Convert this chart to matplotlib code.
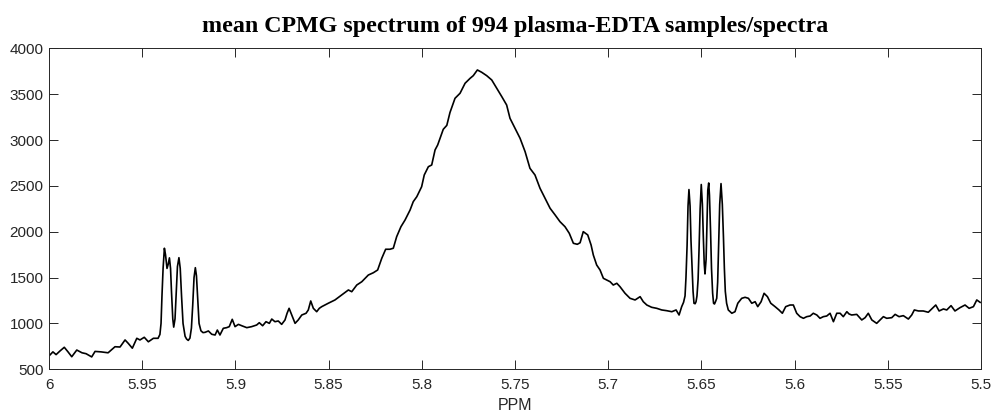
import matplotlib
matplotlib.use("Agg")
import matplotlib.pyplot as plt

ppm = [
    5.9995, 5.9979, 5.9962, 5.9941, 5.9918, 5.9898, 5.9878, 5.9851, 5.9823, 5.9801,
    5.9771, 5.9753, 5.9721, 5.9683, 5.9646, 5.9619, 5.9592, 5.9575, 5.9553, 5.9529,
    5.9512, 5.9489, 5.9467, 5.9440, 5.9415,
    5.9405, 5.9399, 5.9394, 5.9388, 5.9381, 5.9375, 5.9367, 5.9360, 5.9354, 5.9348,
    5.9343, 5.9336, 5.9331, 5.9324, 5.9317, 5.9311, 5.9303, 5.9296, 5.9289, 5.9281,
    5.9270, 5.9262, 5.9253, 5.9244, 5.9236, 5.9229, 5.9222, 5.9215, 5.9209, 5.9202,
    5.9195, 5.9185, 5.9174,
    5.9163, 5.9145, 5.9127, 5.9109, 5.9097, 5.9083, 5.9065, 5.9047, 5.9033, 5.9017,
    5.9002, 5.8984, 5.8966, 5.8939, 5.8913, 5.8886, 5.8872, 5.8854, 5.8836, 5.8818,
    5.8805, 5.8788, 5.8770, 5.8752, 5.8734, 5.8723, 5.8712, 5.8698, 5.8680, 5.8663,
    5.8644, 5.8621, 5.8609, 5.8596, 5.8582, 5.8564, 5.8550, 5.8537, 5.8502, 5.8466,
    5.8430, 5.8394, 5.8376, 5.8349, 5.8322, 5.8287, 5.8260, 5.8237, 5.8215, 5.8194,
    5.8171, 5.8153, 5.8135, 5.8112, 5.8090, 5.8063, 5.8046, 5.8027, 5.8001, 5.7987,
    5.7965, 5.7947, 5.7929, 5.7915, 5.7897, 5.7885, 5.7866, 5.7849, 5.7822, 5.7795,
    5.7768, 5.7741, 5.7724, 5.7702, 5.7679, 5.7652, 5.7625, 5.7598, 5.7571, 5.7545,
    5.7527, 5.7500, 5.7473, 5.7446, 5.7420, 5.7393, 5.7366, 5.7339, 5.7312, 5.7285,
    5.7259, 5.7232, 5.7209, 5.7187, 5.7166, 5.7151, 5.7134, 5.7110, 5.7092, 5.7080,
    5.7062, 5.7044, 5.7026, 5.7008, 5.6990, 5.6973, 5.6954, 5.6937, 5.6910, 5.6883,
    5.6856, 5.6829, 5.6812, 5.6793, 5.6767, 5.6740, 5.6713, 5.6686, 5.6659, 5.6636,
    5.6620, 5.6606,
    5.6596, 5.6588, 5.6583, 5.6577, 5.6572, 5.6567, 5.6561, 5.6556, 5.6550, 5.6545,
    5.6540, 5.6534, 5.6529, 5.6524, 5.6518, 5.6513, 5.6507, 5.6501, 5.6495, 5.6490,
    5.6485, 5.6481, 5.6475, 5.6470, 5.6466, 5.6461, 5.6457, 5.6451, 5.6446, 5.6440,
    5.6435, 5.6430, 5.6424, 5.6418, 5.6413, 5.6407, 5.6402, 5.6395, 5.6388, 5.6382,
    5.6377, 5.6372, 5.6365, 5.6356,
    5.6337, 5.6320, 5.6305, 5.6284, 5.6266, 5.6248, 5.6230,
    5.6212, 5.6198, 5.6180, 5.6164, 5.6146, 5.6128, 5.6105, 5.6084, 5.6066, 5.6048,
    5.6025, 5.6007, 5.5989, 5.5971, 5.5953, 5.5935, 5.5917, 5.5900, 5.5881, 5.5864,
    5.5846, 5.5828, 5.5810, 5.5792, 5.5774, 5.5756, 5.5739, 5.5720, 5.5708, 5.5694,
    5.5667, 5.5640, 5.5622, 5.5605, 5.5586, 5.5560, 5.5542, 5.5524, 5.5506, 5.5479,
    5.5461, 5.5440, 5.5417, 5.5390, 5.5372, 5.5358, 5.5336, 5.5310, 5.5283, 5.5261,
    5.5243, 5.5225, 5.5202, 5.5184, 5.5161, 5.5140, 5.5113, 5.5086, 5.5064, 5.5041,
    5.5023, 5.5005,
]

intensity = [
    656, 690, 660, 700, 740, 690, 637, 710, 680, 670,
    635, 695, 690, 680, 746, 743, 820, 783, 730, 838,
    820, 849, 800, 838, 838,
    880, 1000, 1300, 1600, 1820, 1750, 1600, 1650, 1715, 1600,
    1350, 1050, 960, 1050, 1350, 1620, 1717, 1600, 1300, 1000,
    860, 830, 815, 840, 950, 1200, 1500, 1608, 1520, 1250,
    1000, 920, 900,
    903, 918, 882, 874, 928, 874, 947, 954, 965, 1045,
    965, 990, 975, 954, 965, 983, 1008, 975, 1019, 1001,
    1048, 1019, 1027, 990, 1038, 1110, 1165, 1092, 1001, 1038,
    1092, 1111, 1147, 1245, 1165, 1128, 1165, 1183, 1220, 1256,
    1310, 1365, 1346, 1419, 1455, 1528, 1553, 1583, 1710, 1809,
    1809, 1820, 1946, 2055, 2128, 2237, 2328, 2382, 2491, 2619,
    2709, 2728, 2892, 2946, 3050, 3117, 3160, 3300, 3455, 3510,
    3619, 3673, 3702, 3764, 3739, 3702, 3655, 3564, 3473, 3382,
    3237, 3128, 3019, 2873, 2692, 2619, 2474, 2365, 2256, 2183,
    2110, 2055, 1983, 1874, 1863, 1880, 2001, 1965, 1855, 1746,
    1637, 1583, 1492, 1474, 1455, 1419, 1438, 1401, 1329, 1274,
    1256, 1292, 1237, 1201, 1176, 1165, 1147, 1139, 1128, 1147,
    1092, 1183,
    1230, 1300, 1500, 1850, 2280, 2460, 2280, 1900, 1600, 1350,
    1220, 1215, 1237, 1300, 1480, 1800, 2250, 2515, 2300, 1950,
    1650, 1540, 1700, 2100, 2450, 2532, 2400, 2000, 1600, 1330,
    1220, 1212, 1240, 1274, 1450, 1900, 2300, 2525, 2300, 1946,
    1600, 1350, 1220, 1147,
    1111, 1128, 1220, 1274, 1285, 1274, 1220,
    1237, 1183, 1237, 1329, 1292, 1220, 1183, 1147, 1111, 1183,
    1201, 1201, 1111, 1074, 1056, 1074, 1081, 1111, 1092, 1056,
    1074, 1081, 1111, 1019, 1111, 1111, 1074, 1128, 1103, 1092,
    1099, 1038, 1063, 1111, 1038, 1001, 1038, 1074, 1056, 1063,
    1099, 1074, 1085, 1048, 1092, 1147, 1136, 1136, 1122, 1165,
    1201, 1136, 1158, 1147, 1194, 1136, 1172, 1201, 1165, 1183,
    1256, 1230,
]

x_ticks = [6.0, 5.95, 5.9, 5.85, 5.8, 5.75, 5.7, 5.65, 5.6, 5.55, 5.5]
x_tick_labels = ["6", "5.95", "5.9", "5.85", "5.8", "5.75", "5.7", "5.65", "5.6", "5.55", "5.5"]
y_ticks = [500, 1000, 1500, 2000, 2500, 3000, 3500, 4000]

title = "mean CPMG spectrum of 994 plasma-EDTA samples/spectra"
xlabel = "PPM"

plt.rcParams["font.family"] = ["Liberation Sans", "DejaVu Sans"]

fig = plt.figure(figsize=(9.96, 4.17), dpi=100)
ax = fig.add_axes([0.0492, 0.1144, 0.9358, 0.7697])

ax.plot(ppm, intensity, color="black", linewidth=1.2)

ax.set_xlim(6.0, 5.5)
ax.set_ylim(500, 4000)
ax.set_xticks(x_ticks)
ax.set_xticklabels(x_tick_labels)
ax.set_yticks(y_ticks)

grey = (0.15, 0.15, 0.15)
for s in ax.spines.values():
    s.set_color(grey)
    s.set_linewidth(0.7)
ax.tick_params(axis="both", direction="in", length=6.7, width=0.7, colors=grey,
               labelsize=11, top=True, right=True)
ax.tick_params(axis="x", pad=6)
ax.tick_params(axis="y", pad=4)

ax.set_xlabel(xlabel, fontsize=11.5, color=grey, labelpad=4.5)
ax.set_title(title, fontsize=17.3, fontweight="bold", family=["Liberation Serif", "DejaVu Serif"],
             pad=12, color="black")

fig.savefig("out.png", dpi=100)
